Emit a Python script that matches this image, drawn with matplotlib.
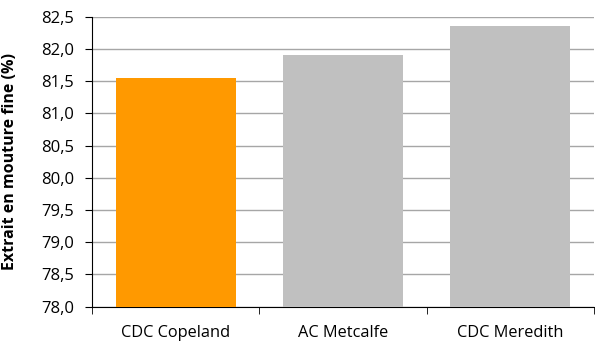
import matplotlib.pyplot as plt
from matplotlib.ticker import FixedLocator, FuncFormatter

plt.rcParams['font.family'] = ['Open Sans', 'DejaVu Sans']

varieties = ["CDC Copeland", "AC Metcalfe", "CDC Meredith"]
extract = [81.55, 81.9, 82.36]
colors = ["#FF9900", "#C0C0C0", "#C0C0C0"]
yticks = [78.0, 78.5, 79.0, 79.5, 80.0, 80.5, 81.0, 81.5, 82.0, 82.5]

fig = plt.figure(figsize=(5.95, 3.43), dpi=100)
ax = fig.add_axes([0.155, 0.106, 0.843, 0.845])

pos = range(len(varieties))
ax.bar(pos, [v - yticks[0] for v in extract], bottom=yticks[0], width=0.72,
       color=colors, zorder=3)

ax.set_ylim(yticks[0], yticks[-1])
ax.set_xlim(-0.5, len(varieties) - 0.5)
ax.set_yticks(yticks)
ax.yaxis.set_major_formatter(FuncFormatter(lambda v, p: f"{v:.1f}".replace(".", ",")))
ax.grid(axis="y", color="#a6a6a6", linewidth=1, zorder=0)

# category labels centred, tick marks on the boundaries
ax.set_xticks(list(pos))
ax.set_xticklabels(varieties, fontsize=11.8)
ax.tick_params(axis="x", which="major", length=0, pad=13)
ax.xaxis.set_minor_locator(FixedLocator([-0.5, 0.5, 1.5, 2.5]))
ax.tick_params(axis="x", which="minor", length=5, color="black")
ax.tick_params(axis="y", length=5, labelsize=12, pad=8)

for side in ["top", "right"]:
    ax.spines[side].set_visible(False)
ax.spines["left"].set_color("black")
ax.spines["bottom"].set_color("black")

ax.set_ylabel("Extrait en mouture fine (%)", fontsize=11.5, fontweight="bold")
ax.yaxis.set_label_coords(-0.148, 0.5)

fig.savefig("out.png", dpi=100)
